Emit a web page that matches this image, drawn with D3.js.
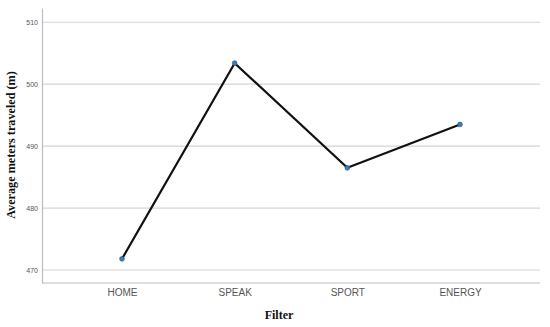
<!DOCTYPE html>
<html><head><meta charset="utf-8">
<script src="https://cdn.jsdelivr.net/npm/d3@7"></script>
<style>body{margin:0;background:#fff}svg{display:block}</style>
</head><body>
<svg id="c" width="550" height="327"></svg>
<script>
const categories = ["HOME","SPEAK","SPORT","ENERGY"];
const values = [471.8, 503.4, 486.5, 493.5];
const yTicks = [470, 480, 490, 500, 510];

const svg = d3.select("#c");
const L = 42, R = 540, T = 8, B = 283;
const x = d3.scalePoint().domain(categories).range([L, R]).padding(0.71);
const y = d3.scaleLinear().domain([467.9, 512.3]).range([B, T]);

// gridlines
svg.append("g").selectAll("line").data(yTicks).join("line")
  .attr("x1", L+1).attr("x2", R).attr("y1", d=>y(d)).attr("y2", d=>y(d))
  .attr("stroke", "#d4d4d4").attr("stroke-width", 1.2);

// y axis
const ya = svg.append("g").attr("transform", `translate(${L},0)`)
  .call(d3.axisLeft(y).tickValues(yTicks).tickSize(0).tickPadding(4));
ya.select(".domain").attr("stroke", "#bdbdbd").attr("stroke-width", 1.2);
ya.selectAll("text").attr("font-family", "Liberation Sans, Arial, sans-serif").attr("font-size", 7).attr("fill", "#555");

// x axis
const xa = svg.append("g").attr("transform", `translate(0,${B})`)
  .call(d3.axisBottom(x).tickSize(0).tickPadding(6));
xa.select(".domain").attr("d", `M${L},0H${R}`).attr("stroke", "#bdbdbd").attr("stroke-width", 1.2);
xa.selectAll("text").attr("font-family", "Liberation Sans, Arial, sans-serif").attr("font-size", 10).attr("fill", "#555");

// line
const data = categories.map((c,i)=>({c, v: values[i]}));
svg.append("path").datum(data)
  .attr("d", d3.line().x(d=>x(d.c)).y(d=>y(d.v)))
  .attr("fill", "none").attr("stroke", "#111").attr("stroke-width", 2.2);

svg.append("g").selectAll("circle").data(data).join("circle")
  .attr("cx", d=>x(d.c)).attr("cy", d=>y(d.v)).attr("r", 2.4)
  .attr("fill", "#3a7db8").attr("stroke", "#1f4f7a").attr("stroke-width", 0.6);

// titles
svg.append("text").attr("x", 279).attr("y", 319).attr("text-anchor", "middle")
  .attr("font-family", "Liberation Serif, Times New Roman, serif").attr("font-weight", "bold")
  .attr("font-size", 12).attr("fill", "#111").text("Filter");
svg.append("text").attr("transform", "translate(15,145) rotate(-90)").attr("text-anchor", "middle")
  .attr("font-family", "Liberation Serif, Times New Roman, serif").attr("font-weight", "bold")
  .attr("font-size", 12.2).attr("fill", "#111").text("Average meters traveled (m)");
</script>
</body></html>
